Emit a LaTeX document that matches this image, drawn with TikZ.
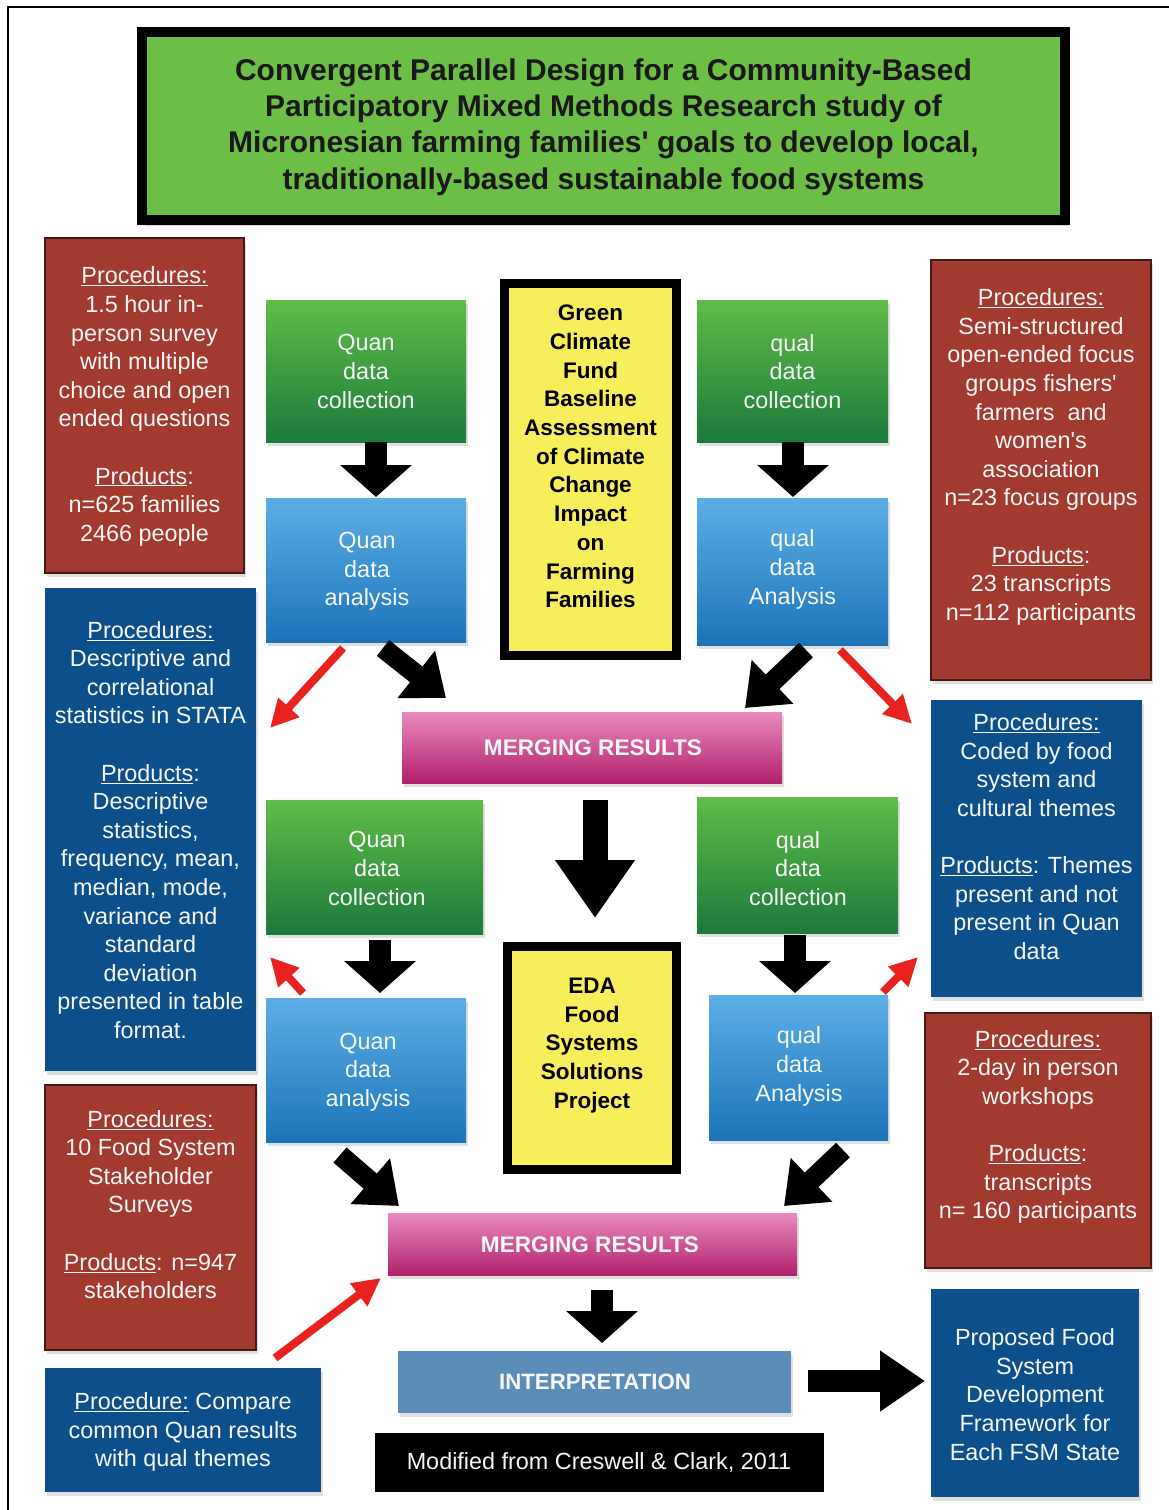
\documentclass[tikz,border=0pt]{standalone}
\usepackage{fontspec}
\setmainfont{Liberation Sans}
\usetikzlibrary{arrows.meta,shadows}

\definecolor{titlegreen}{RGB}{108,190,70}
\definecolor{brick}{RGB}{163,58,47}
\definecolor{brickedge}{RGB}{70,26,20}
\definecolor{navy}{RGB}{13,79,139}
\definecolor{grtop}{RGB}{96,188,72}
\definecolor{grbot}{RGB}{28,122,60}
\definecolor{bltop}{RGB}{92,174,230}
\definecolor{blbot}{RGB}{28,116,184}
\definecolor{pktop}{RGB}{234,138,192}
\definecolor{pkbot}{RGB}{176,32,108}
\definecolor{lemon}{RGB}{247,238,92}
\definecolor{steel}{RGB}{92,141,184}
\definecolor{alert}{RGB}{232,35,31}
\definecolor{paleink}{RGB}{246,246,246}

\newcommand{\apos}{\textquotesingle}

\begin{document}
\begin{tikzpicture}[x=1pt,y=-1pt,
  panel/.style={rectangle, inner sep=0pt, outer sep=0pt},
  shade/.style={drop shadow={opacity=0.25, shadow xshift=2pt, shadow yshift=-4pt}},
  titlebox/.style={panel, fill=titlegreen, draw=black, line width=10pt,
    drop shadow={opacity=0.35, shadow xshift=3pt, shadow yshift=-6pt}},
  redbox/.style={panel, fill=brick, draw=brickedge, line width=2pt, shade},
  navybox/.style={panel, fill=navy, shade},
  greenbox/.style={panel, top color=grtop, bottom color=grbot, shade},
  bluebox/.style={panel, top color=bltop, bottom color=blbot, shade},
  pinkbox/.style={panel, top color=pktop, bottom color=pkbot, shade},
  steelbox/.style={panel, fill=steel, shade},
  yellowbox/.style={panel, fill=lemon, draw=black, line width=9pt},
  inkbox/.style={panel, fill=black},
  body/.style={align=center, text=paleink, inner sep=0pt,
    font=\fontsize{23.4}{28.6}\selectfont},
  heavy/.style={align=center, text=black, inner sep=0pt,
    font=\bfseries\fontsize{22.5}{28.7}\selectfont},
  banner/.style={align=center, text=paleink, inner sep=0pt,
    font=\bfseries\fontsize{22.6}{27}\selectfont},
  headline/.style={align=center, text=black!90, inner sep=0pt,
    font=\bfseries\fontsize{30}{36.4}\selectfont},
  blockdown/.style={black, line width=22pt, -{Triangle[length=32pt,width=70pt]}},
  blockbig/.style={black, line width=25pt, -{Triangle[length=58pt,width=76pt]}},
  blockdiag/.style={black, line width=20pt, -{Triangle[length=38pt,width=58pt]}},
  blockright/.style={black, line width=22pt, -{Triangle[length=45pt,width=58pt]}},
  redarrow/.style={alert, line width=8pt, -{Triangle[length=28pt,width=27pt]}},
]
\useasboundingbox (0,0) rectangle (1169,1510);
\fill[white] (0,0) rectangle (1169,1510);

% page frame (top and left rules)
\draw[line width=2.5pt] (8,1510) -- (8,7) -- (1169,7);

% ---------- title ----------
\node[titlebox, minimum width=923pt, minimum height=188pt] (title) at (603.5,126) {};
\node[headline] (titletext) at (603.5,127) {Convergent Parallel Design for a Community-Based\\
  Participatory Mixed Methods Research study of\\
  Micronesian farming families\apos{} goals to develop local,\\
  traditionally-based sustainable food systems};

% ---------- first round ----------
\node[redbox, minimum width=199pt, minimum height=335pt] (survey) at (144.5,405.5) {};
\node[body] (surveytext) at (144.5,406.5) {\underline{Procedures:}\\
  1.5 hour in-\\ person survey\\ with multiple\\ choice and open\\ ended questions\\[28.6pt]
  \underline{Products}:\\ n=625 families\\ 2466 people};

\node[greenbox, minimum width=200pt, minimum height=142pt] (quanColA) at (366,371) {};
\node[body] (quanColAtext) at (366,371.5) {Quan\\ data\\ collection};
\node[bluebox, minimum width=200pt, minimum height=144pt] (quanAnaA) at (366,570) {};
\node[body] (quanAnaAtext) at (367,571.5) {Quan\\ data\\ analysis};

\node[yellowbox, minimum width=172pt, minimum height=372pt] (gcf) at (590.5,469.5) {};
\node[heavy] (gcftext) at (590.5,456.5) {Green\\ Climate\\ Fund\\ Baseline\\ Assessment\\
  of Climate\\ Change\\ Impact\\ on\\ Farming\\ Families};

\node[greenbox, minimum width=191pt, minimum height=142pt] (qualColA) at (792.5,371) {};
\node[body] (qualColAtext) at (792.5,371.5) {qual\\ data\\ collection};
\node[bluebox, minimum width=191pt, minimum height=147pt] (qualAnaA) at (792.5,571.5) {};
\node[body] (qualAnaAtext) at (792.5,569.5) {qual\\ data\\ Analysis};

\node[redbox, minimum width=220pt, minimum height=420pt] (focus) at (1041,470) {};
\node[body] (focustext) at (1041,457) {\underline{Procedures:}\\
  Semi-structured\\ open-ended focus\\ groups fishers\apos\\ farmers\ \ and\\ women\apos s\\
  association\\ n=23 focus groups\\[28.6pt]
  \underline{Products}:\\ 23 transcripts\\ n=112 participants};

\node[navybox, minimum width=211pt, minimum height=483pt] (stats) at (150.5,829.5) {};
\node[body] (statstext) at (150.5,830) {\underline{Procedures:}\\
  Descriptive and\\ correlational\\ statistics in STATA\\[28.6pt]
  \underline{Products}:\\ Descriptive\\ statistics,\\ frequency, mean,\\ median, mode,\\
  variance and\\ standard\\ deviation\\ presented in table\\ format.};

\node[pinkbox, minimum width=380pt, minimum height=71pt] (mergeA) at (592,747.5) {};
\node[banner] (mergeAtext) at (593,748) {MERGING RESULTS};

\node[navybox, minimum width=211pt, minimum height=297pt] (coding) at (1036.5,848.5) {};
\node[body] (codingtext) at (1036.5,836.5) {\underline{Procedures:}\\
  Coded by food\\ system and\\ cultural themes\\[28.6pt]
  \underline{Products}: Themes\\ present and not\\ present in Quan\\ data};

% ---------- second round ----------
\node[greenbox, minimum width=217pt, minimum height=134pt] (quanColB) at (374.5,867) {};
\node[body] (quanColBtext) at (377,868.5) {Quan\\ data\\ collection};
\node[bluebox, minimum width=200pt, minimum height=144pt] (quanAnaB) at (366,1070) {};
\node[body] (quanAnaBtext) at (368,1072) {Quan\\ data\\ analysis};

\node[yellowbox, minimum width=169pt, minimum height=223pt] (eda) at (592,1058) {};
\node[heavy] (edatext) at (592,1045.5) {EDA\\ Food\\ Systems\\ Solutions\\ Project};

\node[greenbox, minimum width=201pt, minimum height=136pt] (qualColB) at (797.5,865) {};
\node[body] (qualColBtext) at (798,868.5) {qual\\ data\\ collection};
\node[bluebox, minimum width=179pt, minimum height=145pt] (qualAnaB) at (798.5,1067.5) {};
\node[body] (qualAnaBtext) at (799,1066.5) {qual\\ data\\ Analysis};

\node[redbox, minimum width=226pt, minimum height=255pt] (workshop) at (1038,1140.5) {};
\node[body] (workshoptext) at (1038,1127) {\underline{Procedures:}\\
  2-day in person\\ workshops\\[28.6pt]
  \underline{Products}:\\ transcripts\\ n= 160 participants};

\node[redbox, minimum width=211pt, minimum height=265pt] (stake) at (150.5,1217.5) {};
\node[body] (staketext) at (150.5,1204.5) {\underline{Procedures:}\\
  10 Food System\\ Stakeholder\\ Surveys\\[28.6pt]
  \underline{Products}: n=947\\ stakeholders};

\node[pinkbox, minimum width=409pt, minimum height=62pt] (mergeB) at (592.5,1244) {};
\node[banner] (mergeBtext) at (590,1245) {MERGING RESULTS};

\node[steelbox, minimum width=393pt, minimum height=62pt] (interp) at (594.5,1382) {};
\node[banner, font=\bfseries\fontsize{22.2}{26}\selectfont] (interptext) at (595,1382) {INTERPRETATION};

\node[navybox, minimum width=276pt, minimum height=124pt] (compare) at (183,1430) {};
\node[body] (comparetext) at (183,1432) {\underline{Procedure:} Compare\\
  common Quan results\\ with qual themes};

\node[inkbox, minimum width=449pt, minimum height=59pt] (credit) at (599.5,1462.5) {};
\node[body] (credittext) at (599,1463) {Modified from Creswell \& Clark, 2011};

\node[navybox, minimum width=208pt, minimum height=208pt] (framework) at (1035,1393) {};
\node[body] (frameworktext) at (1035,1394.5) {Proposed Food\\ System\\ Development\\
  Framework for\\ Each FSM State};

% ---------- arrow end points ----------
\coordinate (qcA) at (376,442);   \coordinate (qaA) at (376,497);
\coordinate (lcA) at (793,442);   \coordinate (laA) at (793,497);
\coordinate (qaAout) at (383,648); \coordinate (mAin1) at (446,698);
\coordinate (laAout) at (806,650); \coordinate (mAin2) at (745,708);
\coordinate (qaAred) at (343,648); \coordinate (statsIn) at (270,728);
\coordinate (laAred) at (840,650); \coordinate (codingIn) at (912,724);
\coordinate (mAout) at (595,800); \coordinate (edaIn) at (595,918);
\coordinate (qcB) at (380,940);   \coordinate (qaB) at (380,993);
\coordinate (lcB) at (795,935);   \coordinate (laB) at (795,993);
\coordinate (qaBred) at (303,993); \coordinate (statsIn2) at (270,957);
\coordinate (laBred) at (883,992); \coordinate (codingIn2) at (918,957);
\coordinate (qaBout) at (340,1155); \coordinate (mBin1) at (399,1206);
\coordinate (laBout) at (843,1150); \coordinate (mBin2) at (784,1206);
\coordinate (compareOut) at (275,1358); \coordinate (mBin3) at (381,1278);
\coordinate (mBout) at (602,1290); \coordinate (interpIn) at (602,1343);
\coordinate (interpOut) at (808,1381); \coordinate (frameIn) at (925,1381);

% ---------- black flow arrows ----------
\draw[blockdown] (qcA) -- (qaA);
\draw[blockdown] (lcA) -- (laA);
\draw[blockdiag] (qaAout) -- (mAin1);
\draw[blockdiag] (laAout) -- (mAin2);
\draw[blockbig] (mAout) -- (edaIn);
\draw[blockdown] (qcB) -- (qaB);
\draw[blockdown] (lcB) -- (laB);
\draw[blockdiag] (qaBout) -- (mBin1);
\draw[blockdiag] (laBout) -- (mBin2);
\draw[blockdown] (mBout) -- (interpIn);
\draw[blockright] (interpOut) -- (frameIn);

% ---------- red annotation arrows ----------
\draw[redarrow] (qaAred) -- (statsIn);
\draw[redarrow] (laAred) -- (codingIn);
\draw[redarrow] (qaBred) -- (statsIn2);
\draw[redarrow] (laBred) -- (codingIn2);
\draw[redarrow] (compareOut) -- (mBin3);
\end{tikzpicture}
\end{document}
